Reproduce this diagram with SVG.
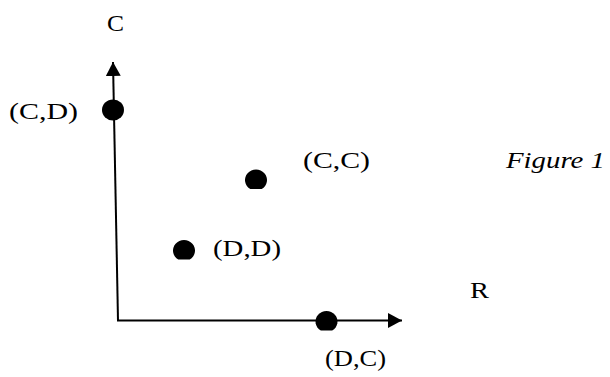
<svg xmlns="http://www.w3.org/2000/svg" width="610" height="377" viewBox="0 0 610 377">
<style>
  .lbl { font-family: "Liberation Serif", "Times New Roman", serif; font-size: 24px; fill: #000; }
  .it { font-style: italic; }
  .axis { stroke: #000; stroke-width: 2; fill: none; }
  .dot { fill: #000; }
</style>
<defs>
  <marker id="arrow" viewBox="0 0 14 15" refX="14" refY="7.5" markerWidth="14" markerHeight="15" markerUnits="userSpaceOnUse" orient="auto">
    <path d="M0,0 L14,7.5 L0,15 Z" fill="#000"/>
  </marker>
</defs>
<rect width="610" height="377" fill="#fff"/>
<g id="connectors">
  <line class="axis" x1="118" y1="320.5" x2="113" y2="62" marker-end="url(#arrow)"/>
  <line class="axis" x1="117" y1="320.5" x2="402" y2="320.5" marker-end="url(#arrow)"/>
</g>
<g id="axis-C"><text class="lbl" x="107" y="31" textLength="17" lengthAdjust="spacingAndGlyphs">C</text></g>
<g id="axis-R"><text class="lbl" x="470" y="298" textLength="19" lengthAdjust="spacingAndGlyphs">R</text></g>
<g id="node-CD">
  <ellipse class="dot" cx="113" cy="110" rx="11" ry="10.5"/>
  <text class="lbl" x="9" y="118.5" textLength="69" lengthAdjust="spacingAndGlyphs">(C,D)</text>
</g>
<g id="node-CC">
  <path class="dot" d="M250.3,189 A11,10.5 0 1 1 261.7,189 Z"/>
  <text class="lbl" x="303" y="168" textLength="67" lengthAdjust="spacingAndGlyphs">(C,C)</text>
</g>
<g id="node-DD">
  <path class="dot" d="M178.3,259.5 A11,10.5 0 1 1 189.7,259.5 Z"/>
  <text class="lbl" x="213" y="256" textLength="68" lengthAdjust="spacingAndGlyphs">(D,D)</text>
</g>
<g id="node-DC">
  <path class="dot" d="M320.8,330.5 A11,10.5 0 1 1 332.2,330.5 Z"/>
  <text class="lbl" x="325" y="366" textLength="61" lengthAdjust="spacingAndGlyphs">(D,C)</text>
</g>
<g id="caption"><text class="lbl it" x="506" y="168" textLength="99" lengthAdjust="spacingAndGlyphs">Figure 1</text></g>
</svg>
